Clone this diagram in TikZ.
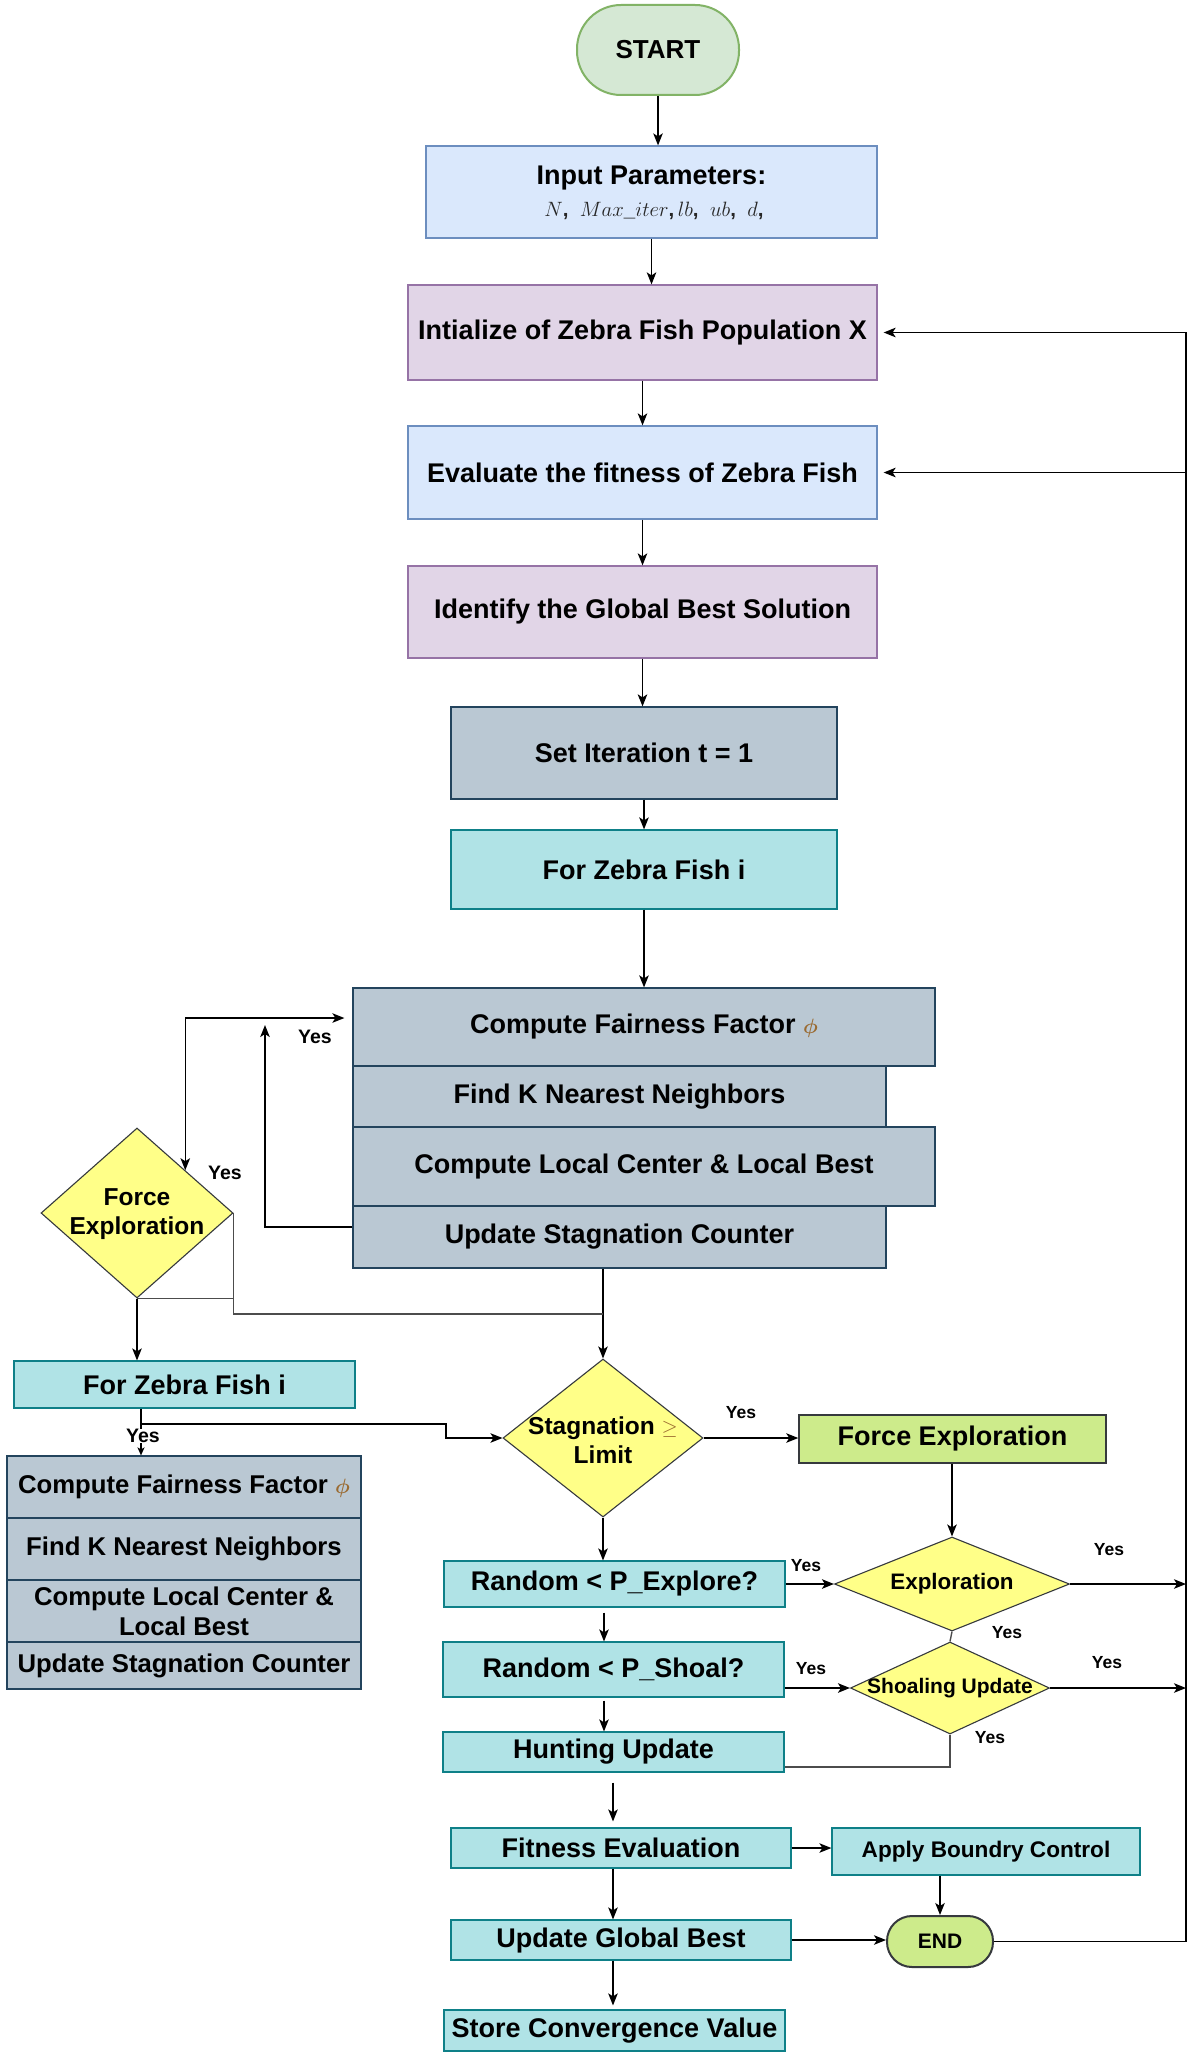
\documentclass[tikz,border=0pt]{standalone}
\usepackage{fontspec}
\setmainfont{Liberation Sans}
\usetikzlibrary{shapes.geometric,arrows.meta,calc}
\definecolor{stG}{HTML}{D5E8D4}\definecolor{stGd}{HTML}{82B366}
\definecolor{bl}{HTML}{DAE8FC}\definecolor{bld}{HTML}{6C8EBF}
\definecolor{pu}{HTML}{E1D5E7}\definecolor{pud}{HTML}{9673A6}
\definecolor{gr}{HTML}{BAC8D3}\definecolor{grd}{HTML}{23445D}
\definecolor{cy}{HTML}{B0E3E6}\definecolor{cyd}{HTML}{0E8088}
\definecolor{ye}{HTML}{FFFF88}\definecolor{dk}{HTML}{36393D}
\definecolor{lg}{HTML}{CDEB8B}\definecolor{phic}{HTML}{9A6A30}
\newcommand{\myphi}{{\color{phic}\fontsize{20}{20}\selectfont$\boldsymbol{\phi}$}}
\newcommand{\mygeq}{{\color{phic}\fontsize{20}{20}\selectfont$\geq$}}
\usepackage{amsmath}
\begin{document}
\begin{tikzpicture}[x=1pt,y=-1pt,
  basebox/.style={rectangle, draw, line width=1.2pt, inner sep=0pt, align=center,
     font=\bfseries\fontsize{27}{32}\selectfont},
  bbox/.style={basebox, fill=bl, draw=bld},
  pbox/.style={basebox, fill=pu, draw=pud},
  gbox/.style={basebox, fill=gr, draw=grd},
  gboxS/.style={gbox, font=\bfseries\fontsize{25.7}{30}\selectfont},
  cbox/.style={basebox, fill=cy, draw=cyd},
  lbox/.style={basebox, fill=lg, draw=dk, line width=1.5pt},
  dia/.style={diamond, draw=dk, fill=ye, line width=1.1pt, inner sep=0pt},
  dtxt/.style={align=center, inner sep=0pt, font=\bfseries\fontsize{24.5}{29}\selectfont},
  yes/.style={inner sep=0.5pt, font=\bfseries\fontsize{17.5}{20}\selectfont},
  yesB/.style={inner sep=0.5pt, font=\bfseries\fontsize{19.5}{22}\selectfont},
  arr/.style={draw=black, line width=1.5pt, -{Stealth[length=12pt,width=9.5pt,inset=3pt]}},
  arrS/.style={draw=black, line width=1.5pt, -{Stealth[length=8pt,width=7pt,inset=2pt]}},
  arrBoth/.style={draw=black, line width=1.5pt, {Stealth[length=12pt,width=9.5pt,inset=3pt]}-{Stealth[length=12pt,width=9.5pt,inset=3pt]}},
  gl/.style={draw=black!70, line width=1.4pt}
]
\useasboundingbox (0,0) rectangle (1190,2060);
\fill[white] (0,0) rectangle (1190,2060);

% ---------- nodes ----------
\node[rectangle, rounded corners=44pt, draw=stGd, fill=stG, line width=2pt,
  minimum width=162, minimum height=90, inner sep=0pt,
  font=\bfseries\fontsize{26}{30}\selectfont] (start) at (658,50) {START};
\node[bbox, minimum width=451, minimum height=92] (input) at (651.5,192) {};
\node[inner sep=0pt, font=\bfseries\fontsize{27}{32}\selectfont] (inputT) at (651.5,178) {Input Parameters:};
\node[inner sep=0pt, text=black!85, font=\bfseries\fontsize{20.5}{22}\selectfont] (inputM) at (654,211)
  {$N$,\ \ $Max\_iter$,\,$lb$,\ \ $ub$,\ \ $d$,};
\node[pbox, minimum width=469, minimum height=95] (init) at (642.5,332.5) {Intialize of Zebra Fish Population X};
\node[bbox, minimum width=469, minimum height=93] (eval) at (642.5,472.5) {Evaluate the fitness of Zebra Fish};
\node[pbox, minimum width=469, minimum height=92] (ident) at (642.5,612) {Identify the Global Best Solution};
\node[gbox, minimum width=386, minimum height=92] (setit) at (644,753) {Set Iteration t = 1};
\node[cbox, minimum width=386, minimum height=79] (fzf) at (644,869.5) {For Zebra Fish i};

\node[gbox, minimum width=582, minimum height=78] (s1) at (644,1027) {Compute Fairness Factor \myphi};
\node[gbox, minimum width=533, minimum height=61] (s2) at (619.5,1096.5) {Find K Nearest Neighbors};
\node[gbox, minimum width=582, minimum height=79] (s3) at (644,1166.5) {Compute Local Center \& Local Best};
\node[gbox, minimum width=533, minimum height=62] (s4) at (619.5,1237) {Update Stagnation Counter};

\node[dia, minimum width=192, minimum height=170] (fed) at (137,1213) {};
\node[dtxt] (fedT) at (137,1214) {Force\\Exploration};

\node[cbox, minimum width=341, minimum height=47] (fzf2) at (184.5,1384.5) {For Zebra Fish i};
\node[gboxS, minimum width=354, minimum height=62] (l1) at (184,1487) {Compute Fairness Factor \myphi};
\node[gboxS, minimum width=354, minimum height=62] (l2) at (184,1549) {Find K Nearest Neighbors};
\node[gboxS, minimum width=354, minimum height=62] (l3) at (184,1611) {Compute Local Center \&\\Local Best};
\node[gboxS, minimum width=354, minimum height=47] (l4) at (184,1665.5) {Update Stagnation Counter};

\node[dia, minimum width=200, minimum height=158] (stag) at (603,1438) {};
\node[dtxt] (stagT) at (603,1440) {Stagnation \mygeq\\Limit};
\node[lbox, minimum width=307, minimum height=48] (force) at (952.5,1439) {Force Exploration};
\node[dia, minimum width=235, minimum height=94] (expl) at (952,1584) {};
\node[dtxt, font=\bfseries\fontsize{22.4}{26}\selectfont] (explT) at (952,1584) {Exploration};
\node[dia, minimum width=199, minimum height=92] (shoal) at (950,1688) {};
\node[dtxt, font=\bfseries\fontsize{21}{25}\selectfont] (shoalT) at (950,1688) {Shoaling Update};

\node[cbox, minimum width=341, minimum height=46] (pexp) at (614.5,1584) {Random < P\_Explore?};
\node[cbox, minimum width=341, minimum height=55] (pshoal) at (613.5,1669.5) {Random < P\_Shoal?};
\node[cbox, minimum width=341, minimum height=40] (hunt) at (613.5,1752) {Hunting Update};
\node[cbox, minimum width=340, minimum height=40] (fit) at (621,1848) {Fitness Evaluation};
\node[cbox, minimum width=308, minimum height=47, font=\bfseries\fontsize{22.6}{26}\selectfont] (apply) at (986,1851.5) {Apply Boundry Control};
\node[rectangle, rounded corners=25pt, draw=dk, fill=lg, line width=2pt,
  minimum width=106, minimum height=51, inner sep=0pt,
  font=\bfseries\fontsize{21}{25}\selectfont] (endn) at (940,1941.5) {END};
\node[cbox, minimum width=340, minimum height=40] (gbest) at (621,1940) {Update Global Best};
\node[cbox, minimum width=341, minimum height=41] (store) at (614.5,2030.5) {Store Convergence Value};

% ---------- helper coordinates ----------
\coordinate (rx) at (1186,0);
\coordinate (yA) at (0,1018);
\coordinate (yB) at (0,1227);
\coordinate (lbEnd) at (265,1025);
\coordinate (j1) at (603,1314);
\coordinate (fedA) at ($(fed.north)!0.5!(fed.east)$);
\coordinate (lx) at (141,0);
\coordinate (ly) at (0,1424);
\coordinate (bx) at (446,0);
\coordinate (c604) at (604,0);
\coordinate (c613) at (613,0);
\coordinate (hy) at (0,1767);

% ---------- connectors ----------
\draw[arr] (start.south) -- (start.south |- input.north);
\draw[arr] (input.south) -- (input.south |- init.north);
\draw[arr] (init.south) -- (eval.north);
\draw[arr] (eval.south) -- (ident.north);
\draw[arr] (ident.south) -- (ident.south |- setit.north);
\draw[arr] (setit.south) -- (fzf.north);
\draw[arr] (fzf.south) -- (s1.north);
\draw[arr] (s4.south -| stag.north) -- (stag.north);
\draw[gl] (fed.east) |- (j1);
\draw[gl] (fed.south) -- (fed.south -| fed.east);
\draw[arrBoth, shorten >=8pt] (fedA) |- (s1.west |- yA);
\draw[arr] (s4.west |- yB) -| (lbEnd);
\draw[arr] (fed.south) -- (fed.south |- fzf2.north);
\draw[arrS] (fzf2.south -| lx) -- (l1.north -| lx);
\draw[arr] (lx |- ly) -- (bx |- ly) |- (stag.west);
\draw[arr] (stag.east) -- (stag.east -| force.west);
\draw[arr] (force.south -| expl.north) -- (expl.north);
\draw[arr] (stag.south) -- (stag.south |- pexp.north);
\draw[arr] (pexp.east) -- (expl.west);
\draw[arr] (expl.east) -- (expl.east -| rx);
\draw[gl] (expl.south) -- (shoal.north);
\draw[arr, shorten <=5pt] (pexp.south -| c604) -- (pshoal.north -| c604);
\draw[arr] (pshoal.east |- shoal.west) -- (shoal.west);
\draw[arr] (shoal.east) -- (shoal.east -| rx);
\draw[gl] (shoal.south) |- (hunt.east |- hy);
\draw[arr, shorten <=3pt] (pshoal.south -| c604) -- (hunt.north -| c604);
\draw[arr, shorten <=10pt, shorten >=6pt] (hunt.south -| c613) -- (fit.north -| c613);
\draw[arr] (fit.east) -- (fit.east -| apply.west);
\draw[arr] (fit.south -| c613) -- (gbest.north -| c613);
\draw[arr] (apply.south -| endn.north) -- (endn.north);
\draw[arr] (gbest.east) -- (gbest.east -| endn.west);
\draw[arr, shorten >=4pt] (gbest.south -| c613) -- (store.north -| c613);
\draw[arr, shorten >=6pt] (endn.east) -| (rx |- init.east) -- (init.east);
\draw[arr, shorten >=6pt] (rx |- eval.east) -- (eval.east);

% ---------- labels ----------
\node[yesB] (y1) at (315,1037) {Yes};
\node[yesB] (y2) at (225,1173) {Yes};
\node[yesB, fill=white] (y3) at (143,1436) {Yes};
\node[yes] (y4) at (741,1413) {Yes};
\node[yes] (y5) at (806,1566) {Yes};
\node[yes] (y6) at (1109,1550) {Yes};
\node[yes] (y7) at (1007,1633) {Yes};
\node[yes] (y8) at (811,1669) {Yes};
\node[yes] (y9) at (1107,1663) {Yes};
\node[yes] (y10) at (990,1738) {Yes};
\end{tikzpicture}
\end{document}
